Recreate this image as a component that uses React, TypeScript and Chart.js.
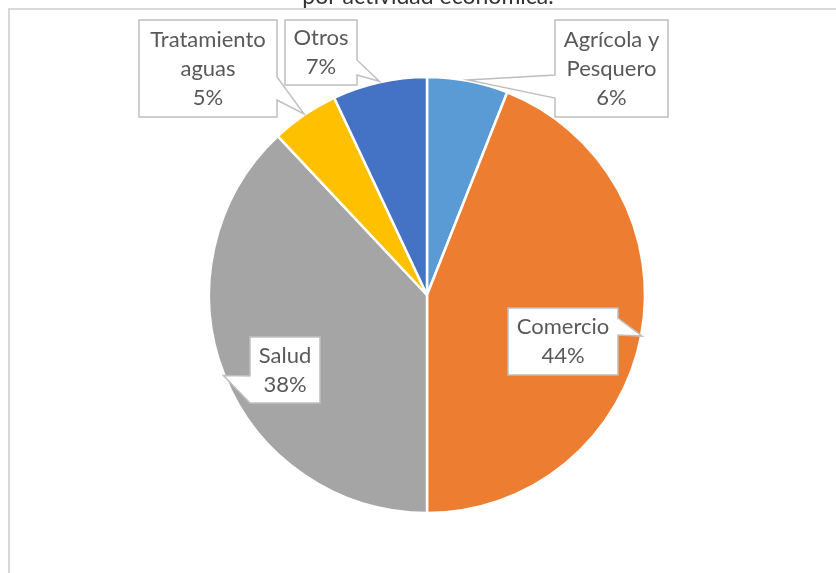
import React, { useEffect, useRef } from "react";
import { Chart, registerables } from "chart.js";

Chart.register(...registerables);

const titleText = "por actividad económica.";
const categories = ["Agrícola y Pesquero", "Comercio", "Salud", "Tratamiento aguas", "Otros"];
const labelLines = [["Agrícola y", "Pesquero"], ["Comercio"], ["Salud"], ["Tratamiento", "aguas"], ["Otros"]];
const values = [6, 44, 38, 5, 7];
const sliceColors = ["#5B9BD5", "#ED7D31", "#A5A5A5", "#FFC000", "#4472C4"];

// callout box geometry (layout only)
const calloutLayout = [
  { x: 555, y: 20, w: 113, h: 97, side: "left", b1: 75, b2: 98 },
  { x: 508, y: 308, w: 110, h: 67, side: "right", b1: 318, b2: 335 },
  { x: 250, y: 337, w: 70, h: 66, side: "left", b1: 376, b2: 403 },
  { x: 139, y: 20, w: 138, h: 97, side: "right", b1: 77, b2: 100 },
  { x: 285, y: 20, w: 72, h: 65, side: "right", b1: 60, b2: 75 },
];

const FONT = "Lato, 'Open Sans', sans-serif";

const decorPlugin = {
  id: "decor",
  afterDraw(chart: any) {
    const ctx = chart.ctx as CanvasRenderingContext2D;
    ctx.save();
    // outer chart border (left & top)
    ctx.strokeStyle = "#D9D9D9";
    ctx.lineWidth = 2;
    ctx.beginPath();
    ctx.moveTo(9, 573);
    ctx.lineTo(9, 9);
    ctx.lineTo(836, 9);
    ctx.stroke();

    // title (cut off at top)
    ctx.fillStyle = "#333333";
    ctx.font = `23px ${FONT}`;
    ctx.textAlign = "center";
    ctx.textBaseline = "alphabetic";
    ctx.fillText(titleText, 428, 4);

    const meta = chart.getDatasetMeta(0);
    const total = values.reduce((a, b) => a + b, 0);
    meta.data.forEach((arc: any, i: number) => {
      const L = calloutLayout[i];
      const mid = (arc.startAngle + arc.endAngle) / 2;
      const r = arc.outerRadius + 1;
      const tx = arc.x + Math.cos(mid) * r;
      const ty = arc.y + Math.sin(mid) * r;
      ctx.beginPath();
      if (L.side === "right") {
        ctx.moveTo(L.x, L.y);
        ctx.lineTo(L.x + L.w, L.y);
        ctx.lineTo(L.x + L.w, L.b1);
        ctx.lineTo(tx, ty);
        ctx.lineTo(L.x + L.w, L.b2);
        ctx.lineTo(L.x + L.w, L.y + L.h);
        ctx.lineTo(L.x, L.y + L.h);
      } else {
        ctx.moveTo(L.x, L.y);
        ctx.lineTo(L.x + L.w, L.y);
        ctx.lineTo(L.x + L.w, L.y + L.h);
        ctx.lineTo(L.x, L.y + L.h);
        ctx.lineTo(L.x, L.b2);
        ctx.lineTo(tx, ty);
        ctx.lineTo(L.x, L.b1);
      }
      ctx.closePath();
      ctx.fillStyle = "#FFFFFF";
      ctx.fill();
      ctx.strokeStyle = "#BFBFBF";
      ctx.lineWidth = 1.5;
      ctx.stroke();

      const lines = [...labelLines[i], Math.round((values[i] / total) * 100) + "%"];
      const lh = 29;
      const cx = L.x + L.w / 2;
      const cy = L.y + L.h / 2;
      const startY = cy - ((lines.length - 1) * lh) / 2;
      ctx.fillStyle = "#595959";
      ctx.font = `22px ${FONT}`;
      ctx.textAlign = "center";
      ctx.textBaseline = "middle";
      lines.forEach((t, k) => ctx.fillText(t, cx, startY + k * lh));
    });
    ctx.restore();
  },
};

export default function App() {
  const ref = useRef<HTMLCanvasElement>(null);
  useEffect(() => {
    if (!ref.current) return;
    const chart = new Chart(ref.current, {
      type: "pie",
      data: {
        labels: categories,
        datasets: [
          {
            data: values,
            backgroundColor: sliceColors,
            borderColor: "#FFFFFF",
            borderWidth: 2.5,
          },
        ],
      },
      options: {
        responsive: false,
        animation: false,
        devicePixelRatio: 1,
        radius: 218,
        layout: { padding: { left: 18, right: 0, top: 77, bottom: 60 } },
        plugins: {
          legend: { display: false },
          title: { display: false },
          tooltip: { enabled: false },
        },
      } as any,
      plugins: [decorPlugin],
    });
    return () => chart.destroy();
  }, []);
  return (
    <div style={{ position: "absolute", left: 0, top: 0, width: 836, height: 573, background: "#fff" }}>
      <canvas ref={ref} width={836} height={573} style={{ display: "block" }} />
    </div>
  );
}
